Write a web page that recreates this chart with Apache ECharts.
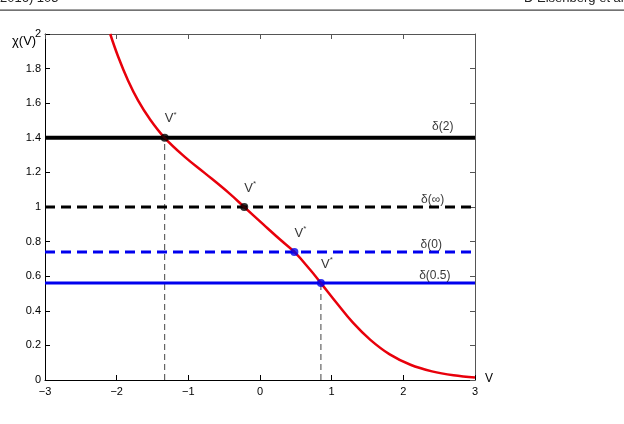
<!DOCTYPE html>
<html>
<head>
<meta charset="utf-8">
<script src="https://cdn.jsdelivr.net/npm/echarts@6/dist/echarts.min.js"></script>
<style>
  html, body { margin: 0; padding: 0; background: #fff; }
  #chart { width: 624px; height: 424px; }
</style>
</head>
<body>
<div id="chart"></div>
<script>
// red curve chi(V)^2
const curveV = [-2.09, -1.98, -1.84, -1.70, -1.54, -1.33, -1.05, -0.77, -0.44, -0.22, 0.05, 0.28, 0.48, 0.70, 0.85, 1.07, 1.30, 1.54, 1.81, 2.10, 2.40, 2.70, 3.0]
const curveChi = [2.0, 1.87, 1.73, 1.615, 1.51, 1.40, 1.29, 1.196, 1.083, 1.0, 0.898, 0.812, 0.74, 0.637, 0.56, 0.445, 0.33, 0.232, 0.148, 0.088, 0.05, 0.027, 0.014]

// horizontal delta levels
const levelNames = ['δ(2)', 'δ(∞)', 'δ(0)', 'δ(0.5)']
const levelValues = [1.40, 1.0, 0.74, 0.56]
const labelX = [2.55, 2.41, 2.39, 2.44]

// V* crossing points
const crossV = [-1.33, -0.22, 0.48, 0.85]
const crossChi = [1.40, 1.0, 0.74, 0.56]

const chart = echarts.init(document.getElementById('chart'))
const font = 'Liberation Sans, Arial, sans-serif'

const levelStyles = [
  { color: '#000', width: 4, type: 'solid' },
  { color: '#000', width: 3, type: [10, 6] },
  { color: '#0000ee', width: 3, type: [10, 6] },
  { color: '#0000ee', width: 3, type: 'solid' }
]

const series = []

// level lines
levelValues.forEach((y, i) => {
  series.push({
    type: 'line',
    data: [[-3, y], [3, y]],
    symbol: 'none',
    silent: true,
    lineStyle: levelStyles[i],
    z: 2
  })
})

// thin dashed drop lines (first and last crossings)
;[0, 3].forEach(i => {
  series.push({
    type: 'line',
    data: [[crossV[i], 0], [crossV[i], crossChi[i]]],
    symbol: 'none',
    lineStyle: { color: '#444', width: 1, type: [6, 4] },
    z: 1
  })
})

// the curve
series.push({
  type: 'line',
  data: curveV.map((v, i) => [v, curveChi[i]]),
  smooth: 0.4,
  symbol: 'none',
  lineStyle: { color: '#e8000b', width: 2.5 },
  z: 3
})

// dots with V* labels
series.push({
  type: 'scatter',
  data: crossV.map((v, i) => ({
    value: [v, crossChi[i]],
    itemStyle: { color: i < 2 ? '#000' : '#0000ee' }
  })),
  symbolSize: 8,
  z: 4,
  label: {
    show: true,
    position: 'top',
    offset: [6, -2],
    formatter: '{a|V}{b|*}',
    rich: {
      a: { fontFamily: font, fontSize: 13, color: '#000' },
      b: { fontFamily: font, fontSize: 8, color: '#000', verticalAlign: 'top', padding: [0, 0, 8, 0] }
    }
  }
})

// delta labels
series.push({
  type: 'scatter',
  data: levelValues.map((y, i) => ({
    value: [labelX[i], y],
    name: levelNames[i],
    label: { distance: i === 0 ? 5 : 1 }
  })),
  symbolSize: 0,
  z: 5,
  label: {
    show: true,
    position: 'top',
    formatter: p => p.name,
    fontFamily: font,
    fontSize: 12,
    color: '#000'
  }
})

const fmtX = v => (v < 0 ? '\u2212' + Math.abs(v) : String(v))

chart.setOption({
  animation: false,
  grid: { left: 45, right: 149, top: 34, bottom: 44 },
  graphic: [
    { type: 'text', left: 0, top: -8, style: { text: '2016) 105', fontFamily: font, fontSize: 13, fill: '#222' } },
    { type: 'text', left: 524, top: -8, style: { text: 'D Eisenberg et al', fontFamily: font, fontSize: 13, fill: '#222' } },
    { type: 'rect', shape: { x: 0, y: 9.5, width: 624, height: 1.2 }, style: { fill: '#444' } },
    { type: 'text', left: 12, top: 35, style: { text: 'χ(V)', fontFamily: font, fontSize: 13, fill: '#000' } },
    { type: 'text', left: 485, top: 373, style: { text: 'V', fontFamily: font, fontSize: 12, fill: '#000' } }
  ],
  xAxis: [
    {
      type: 'value', min: -3, max: 3, interval: 1,
      axisLine: { onZero: false, lineStyle: { color: '#000', width: 1 } },
      axisTick: { inside: true, length: 5, lineStyle: { color: '#000' } },
      axisLabel: { formatter: fmtX, fontFamily: font, fontSize: 11, color: '#000', margin: 6 },
      splitLine: { show: false }
    },
    {
      type: 'value', min: -3, max: 3, interval: 1, position: 'top',
      axisLine: { show: true, onZero: false, lineStyle: { color: '#555', width: 1 } },
      axisTick: { inside: true, length: 5, lineStyle: { color: '#555' } },
      axisLabel: { show: false },
      splitLine: { show: false }
    }
  ],
  yAxis: [
    {
      type: 'value', min: 0, max: 2, interval: 0.2,
      axisLine: { show: true, onZero: false, lineStyle: { color: '#000', width: 1 } },
      axisTick: { show: true, inside: true, length: 5, lineStyle: { color: '#000' } },
      axisLabel: { fontFamily: font, fontSize: 11, color: '#000', margin: 4 },
      splitLine: { show: false }
    },
    {
      type: 'value', min: 0, max: 2, interval: 0.2, position: 'right',
      axisLine: { show: true, onZero: false, lineStyle: { color: '#555', width: 1 } },
      axisTick: { show: true, inside: true, length: 5, lineStyle: { color: '#555' } },
      axisLabel: { show: false },
      splitLine: { show: false }
    }
  ],
  series: series
})
</script>
</body>
</html>
